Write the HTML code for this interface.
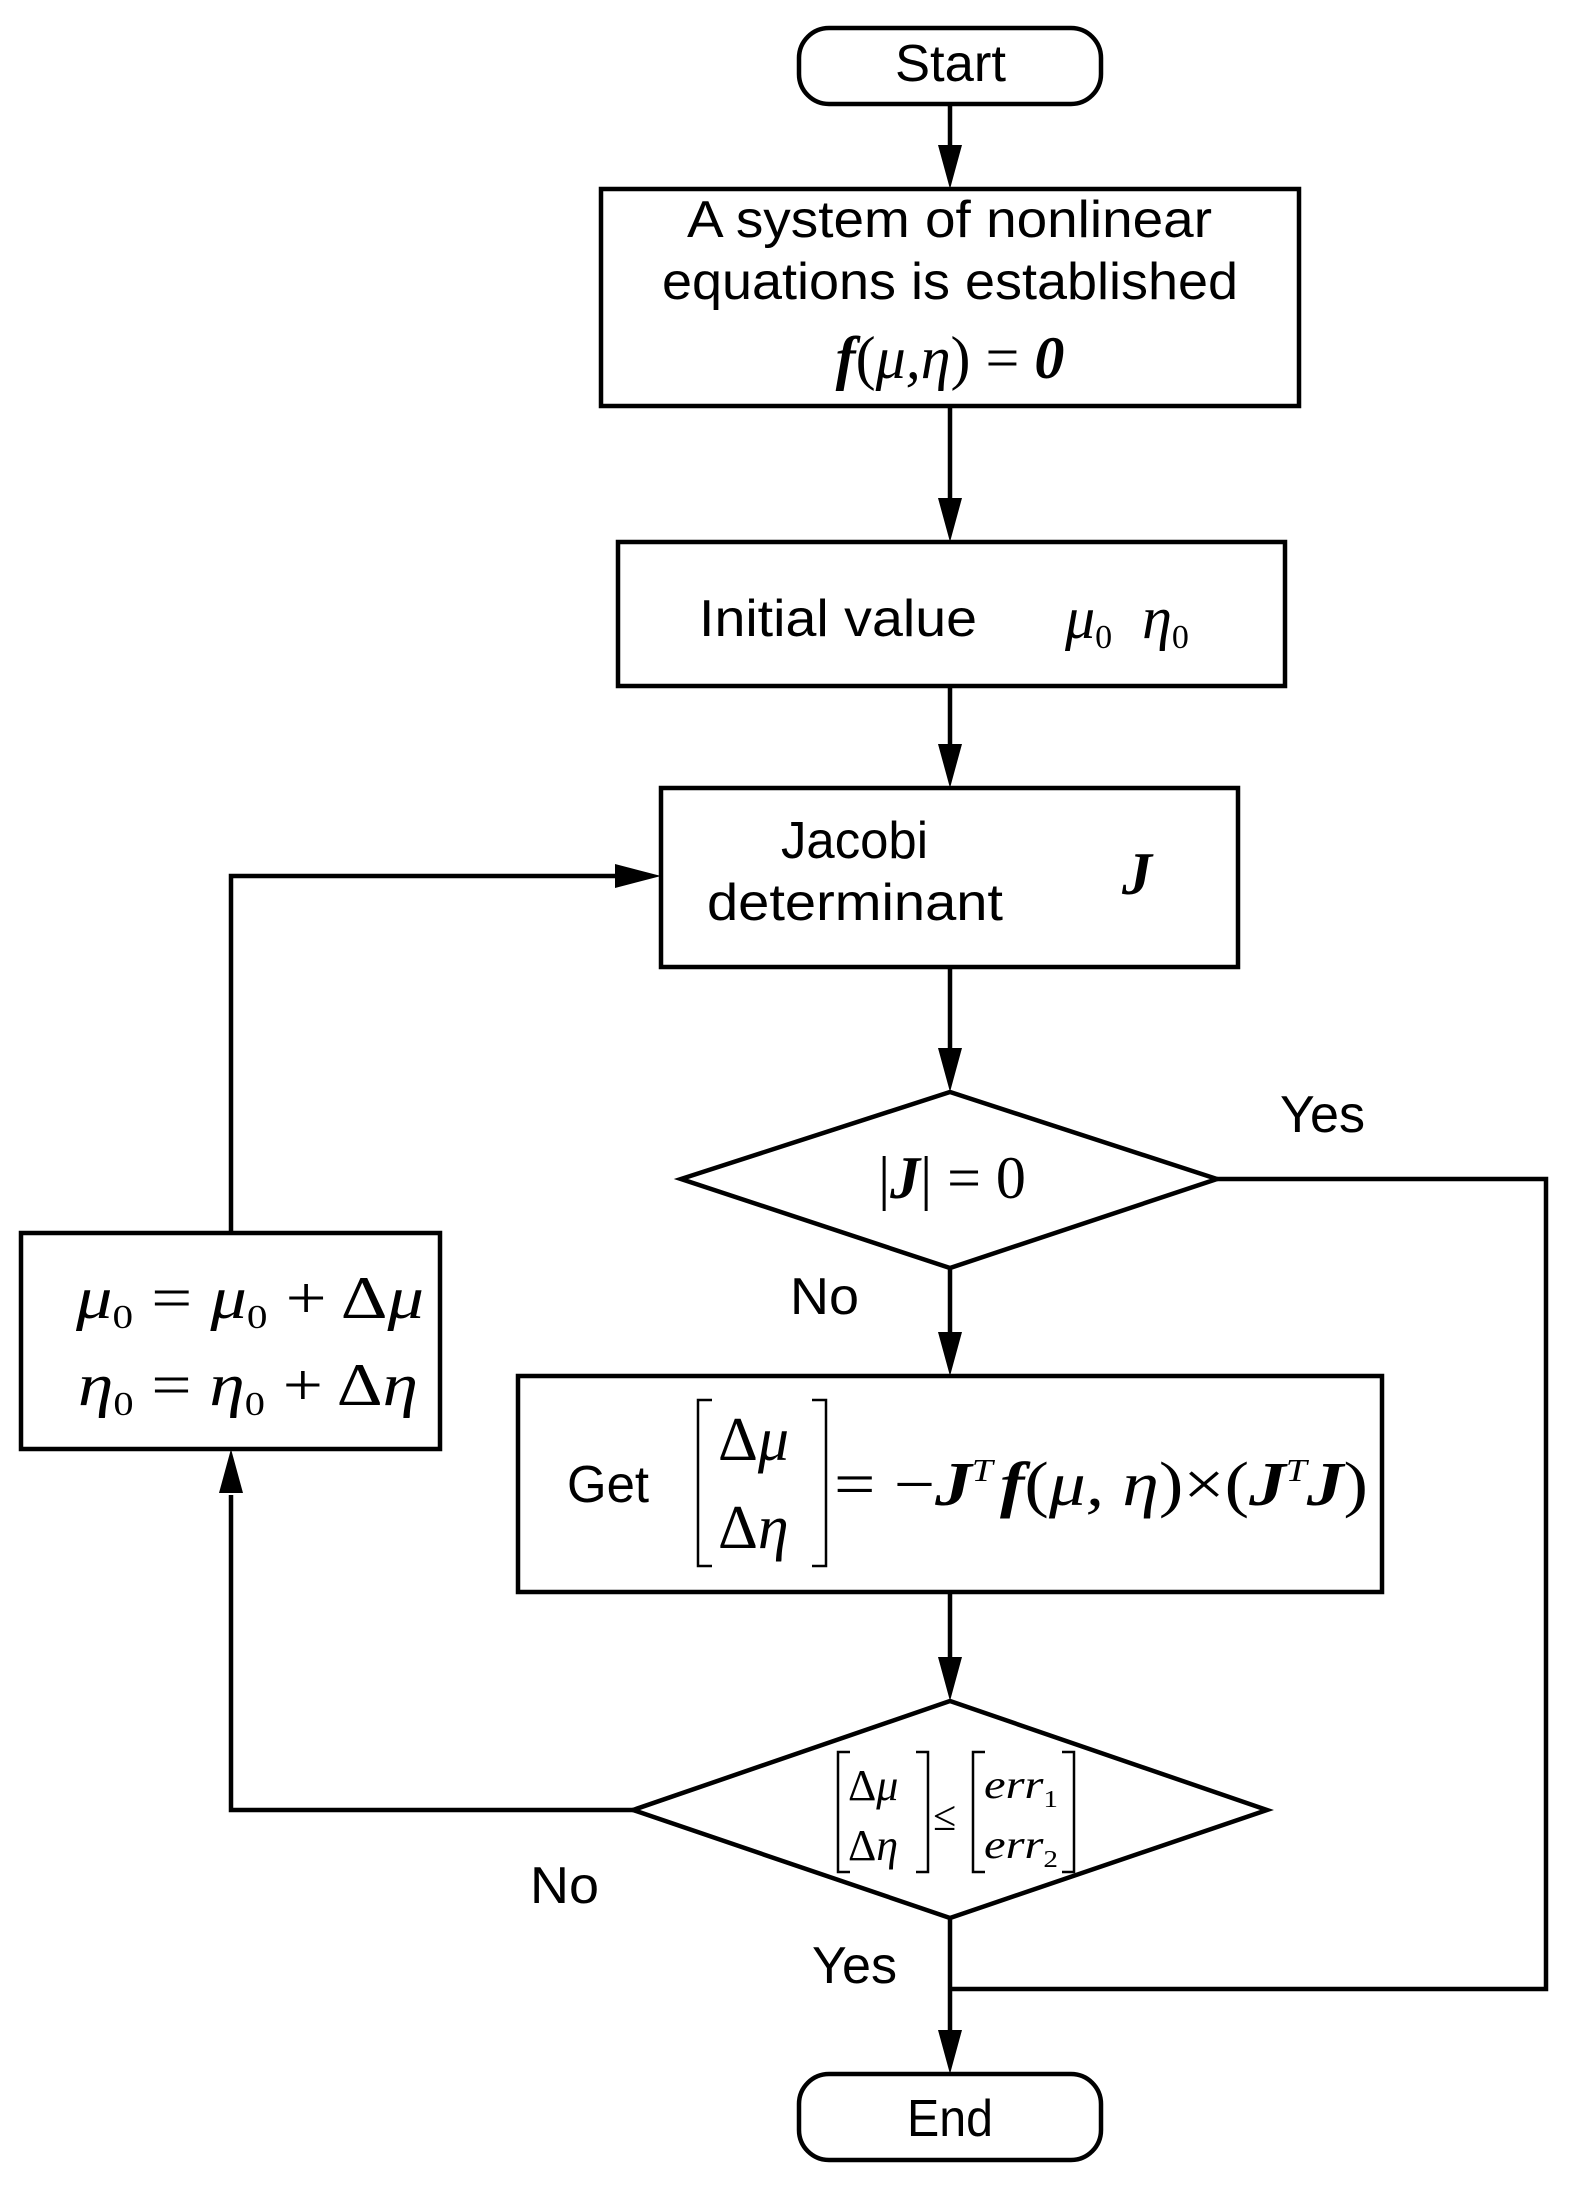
<!DOCTYPE html>
<html><head><meta charset="utf-8"><style>
html,body{margin:0;padding:0;background:#fff}
svg{display:block}
.t{font-family:"Liberation Sans",sans-serif;font-size:52px;fill:#000}
.m{font-family:"Liberation Serif",serif;font-style:italic;font-size:60px;fill:#000}
.r{font-family:"Liberation Serif",serif;font-size:50px;fill:#000}
.b{font-weight:bold}
</style></head><body>
<svg width="1570" height="2186" viewBox="0 0 1570 2186" xmlns="http://www.w3.org/2000/svg">
<g fill="none" stroke="#000" stroke-width="4.5">
<rect x="799" y="28" width="302" height="76" rx="30"/>
<rect x="601" y="189" width="698" height="217"/>
<rect x="618" y="542" width="667" height="144"/>
<rect x="661" y="788" width="577" height="179"/>
<polygon points="681,1179 950,1092 1217,1179 950,1268"/>
<rect x="518" y="1376" width="864" height="216"/>
<polygon points="633,1810 950,1701 1267,1810 950,1918"/>
<rect x="21" y="1233" width="419" height="216"/>
<rect x="799" y="2074" width="302" height="86" rx="30"/>
<line x1="950" y1="104" x2="950" y2="150"/>
<line x1="950" y1="406" x2="950" y2="500"/>
<line x1="950" y1="686" x2="950" y2="745"/>
<line x1="950" y1="967" x2="950" y2="1050"/>
<line x1="950" y1="1268" x2="950" y2="1333"/>
<line x1="950" y1="1592" x2="950" y2="1658"/>
<line x1="950" y1="1918" x2="950" y2="2030"/>
<polyline points="1217,1179 1546,1179 1546,1989 950,1989"/>
<polyline points="633,1810 231,1810 231,1495"/>
<polyline points="231,1233 231,876 615,876"/>
</g>
<g fill="#000">
<polygon points="938,145 962,145 950,189"/>
<polygon points="938,498 962,498 950,542"/>
<polygon points="938,744 962,744 950,788"/>
<polygon points="938,1048 962,1048 950,1092"/>
<polygon points="938,1332 962,1332 950,1376"/>
<polygon points="938,1657 962,1657 950,1701"/>
<polygon points="938,2030 962,2030 950,2074"/>
<polygon points="219,1493 243,1493 231,1449"/>
<polygon points="615,864 615,888 661,876"/>
</g>
<text class="t" x="895" y="81" textLength="111" lengthAdjust="spacingAndGlyphs">Start</text>
<text class="t" x="687" y="237" textLength="525" lengthAdjust="spacingAndGlyphs">A system of nonlinear</text>
<text class="t" x="662" y="299" textLength="576" lengthAdjust="spacingAndGlyphs">equations is established</text>
<text class="m" x="950" y="378" text-anchor="middle"><tspan class="b">f</tspan><tspan font-style="normal">(</tspan>μ,η<tspan font-style="normal">) = </tspan><tspan class="b">0</tspan></text>
<text class="t" x="699" y="636" textLength="278" lengthAdjust="spacingAndGlyphs">Initial value</text>
<text class="m" x="1065" y="638">μ<tspan style="font-size:34px;font-style:normal" dy="10">0</tspan><tspan dy="-10" dx="30">η</tspan><tspan style="font-size:34px;font-style:normal" dy="10">0</tspan></text>
<text class="t" x="781" y="858" textLength="147" lengthAdjust="spacingAndGlyphs">Jacobi</text>
<text class="t" x="707" y="920" textLength="296" lengthAdjust="spacingAndGlyphs">determinant</text>
<text class="m b" x="1122" y="894">J</text>
<text class="m" x="952" y="1198" text-anchor="middle"><tspan font-style="normal">|</tspan><tspan class="b">J</tspan><tspan font-style="normal">| = 0</tspan></text>
<text class="t" x="1280" y="1132" textLength="85" lengthAdjust="spacingAndGlyphs">Yes</text>
<text class="t" x="790" y="1314" textLength="69" lengthAdjust="spacingAndGlyphs">No</text>
<text class="t" x="567" y="1502" textLength="82" lengthAdjust="spacingAndGlyphs">Get</text>
<g fill="none" stroke="#000" stroke-width="2.5">
<polyline points="712,1400 698,1400 698,1566 712,1566"/>
<polyline points="812,1400 826,1400 826,1566 812,1566"/>
<polyline points="850,1752 838,1752 838,1872 850,1872"/>
<polyline points="916,1752 928,1752 928,1872 916,1872"/>
<polyline points="985,1752 973,1752 973,1872 985,1872"/>
<polyline points="1062,1752 1074,1752 1074,1872 1062,1872"/>
</g>
<text class="r" x="718" y="1460" style="font-size:62px">Δ<tspan font-style="italic">μ</tspan></text>
<text class="r" x="718" y="1548" style="font-size:62px">Δ<tspan font-style="italic">η</tspan></text>
<text class="m" x="834" y="1505" style="font-size:62px" textLength="534" lengthAdjust="spacingAndGlyphs"><tspan font-style="normal">= −</tspan><tspan class="b">J</tspan><tspan style="font-size:32px" dy="-24">T</tspan><tspan class="b" dy="24" dx="6">f</tspan><tspan font-style="normal">(</tspan>μ, η<tspan font-style="normal">)×(</tspan><tspan class="b">J</tspan><tspan style="font-size:32px" dy="-24">T</tspan><tspan class="b" dy="24">J</tspan><tspan font-style="normal">)</tspan></text>
<text class="r" x="848" y="1800" style="font-size:44px">Δ<tspan font-style="italic">μ</tspan></text>
<text class="r" x="848" y="1860" style="font-size:44px">Δ<tspan font-style="italic">η</tspan></text>
<text class="r" x="933" y="1830" style="font-size:42px">≤</text>
<text class="m" x="984" y="1798" style="font-size:40px" textLength="74" lengthAdjust="spacingAndGlyphs">err<tspan style="font-size:24px;font-style:normal" dy="9">1</tspan></text>
<text class="m" x="984" y="1858" style="font-size:40px" textLength="74" lengthAdjust="spacingAndGlyphs">err<tspan style="font-size:24px;font-style:normal" dy="9">2</tspan></text>
<text class="t" x="530" y="1903" textLength="69" lengthAdjust="spacingAndGlyphs">No</text>
<text class="t" x="812" y="1983" textLength="85" lengthAdjust="spacingAndGlyphs">Yes</text>
<text class="t" x="907" y="2136" textLength="86" lengthAdjust="spacingAndGlyphs">End</text>
<text class="m" x="76" y="1318" textLength="348" lengthAdjust="spacingAndGlyphs">μ<tspan style="font-size:34px;font-style:normal" dy="10">0</tspan><tspan font-style="normal" dy="-10"> = </tspan>μ<tspan style="font-size:34px;font-style:normal" dy="10">0</tspan><tspan font-style="normal" dy="-10"> + Δ</tspan>μ</text>
<text class="m" x="78" y="1405" textLength="340" lengthAdjust="spacingAndGlyphs">η<tspan style="font-size:34px;font-style:normal" dy="10">0</tspan><tspan font-style="normal" dy="-10"> = </tspan>η<tspan style="font-size:34px;font-style:normal" dy="10">0</tspan><tspan font-style="normal" dy="-10"> + Δ</tspan>η</text>
</svg>
</body></html>
